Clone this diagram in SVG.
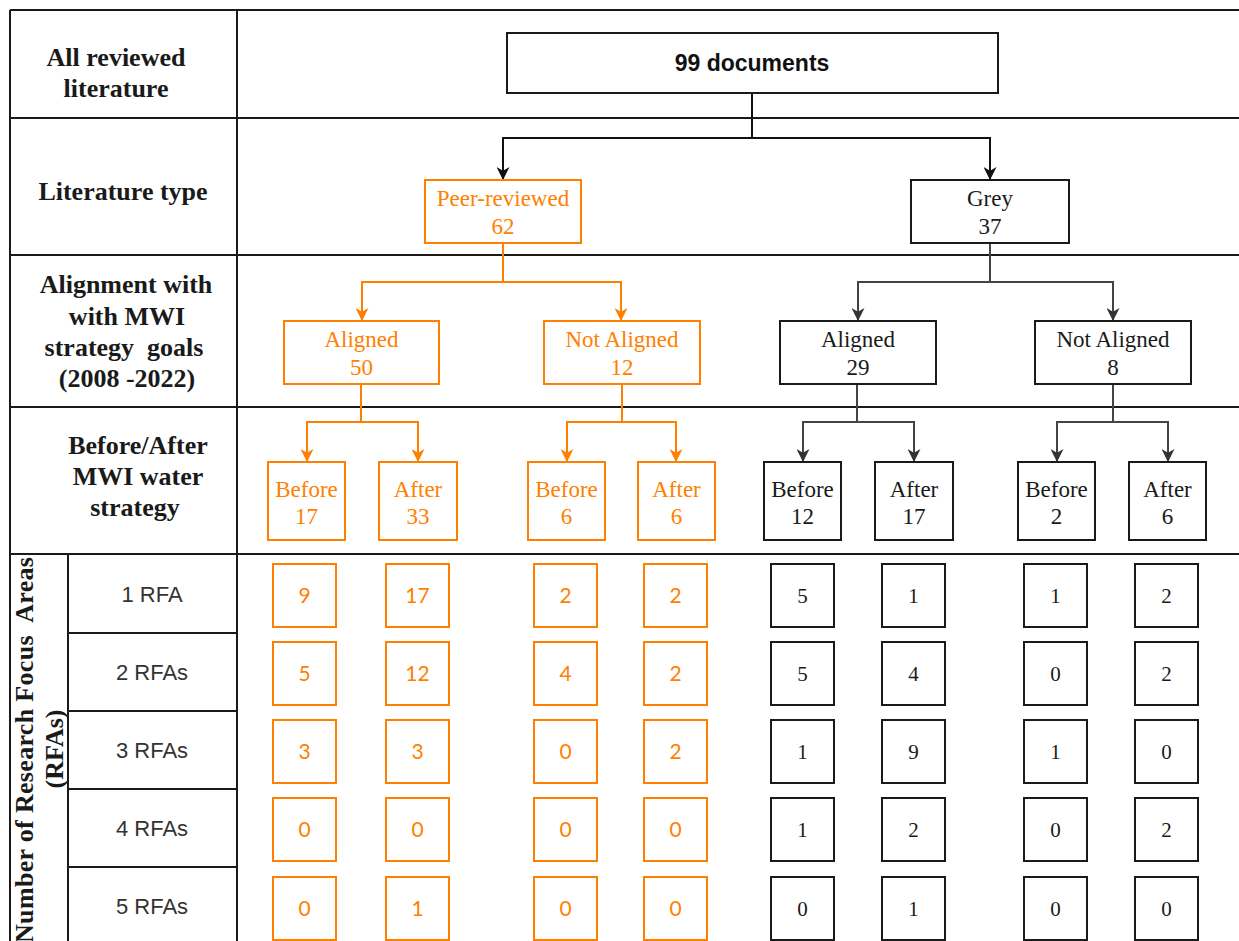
<svg xmlns="http://www.w3.org/2000/svg" width="1239" height="941" viewBox="0 0 1239 941">
  <style>
    .grid { stroke: #1a1a1a; stroke-width: 2; fill: none; }
    .hdr { font-family: "Liberation Serif", "Times New Roman", serif; font-weight: bold; font-size: 26px; fill: #1a1a1a; text-anchor: middle; }
    .rfa { font-family: "Liberation Sans", Arial, sans-serif; font-size: 22px; fill: #333333; text-anchor: middle; }
    .box-o { fill: #ffffff; stroke: #ff8000; stroke-width: 2; }
    .box-k { fill: #ffffff; stroke: #1a1a1a; stroke-width: 2; }
    .t-o { font-family: "Liberation Serif", "Times New Roman", serif; font-size: 23px; fill: #ff8000; text-anchor: middle; }
    .t-k { font-family: "Liberation Serif", "Times New Roman", serif; font-size: 23px; fill: #1a1a1a; text-anchor: middle; }
    .n-o { font-family: Lato, "Open Sans", sans-serif; font-size: 21px; fill: #ff8000; text-anchor: middle; }
    .n-k { font-family: "Liberation Serif", "Times New Roman", serif; font-size: 21px; fill: #1a1a1a; text-anchor: middle; }
    .top { font-family: "Liberation Sans", Arial, sans-serif; font-weight: bold; font-size: 23px; fill: #111111; text-anchor: middle; }
    .c-k { fill: none; stroke: #111111; stroke-width: 2; }
    .c-g { fill: none; stroke: #444444; stroke-width: 2; }
    .c-o { fill: none; stroke: #ff8000; stroke-width: 2; }
  </style>
  <defs>
    <marker id="ah-k" viewBox="0 0 12 12" refX="12" refY="6" markerWidth="13" markerHeight="13" markerUnits="userSpaceOnUse" orient="auto">
      <path d="M0,0 L12,6 L0,12 L3.5,6 z" fill="#111111"/>
    </marker>
    <marker id="ah-g" viewBox="0 0 12 12" refX="12" refY="6" markerWidth="13" markerHeight="13" markerUnits="userSpaceOnUse" orient="auto">
      <path d="M0,0 L12,6 L0,12 L3.5,6 z" fill="#333333"/>
    </marker>
    <marker id="ah-o" viewBox="0 0 12 12" refX="12" refY="6" markerWidth="13" markerHeight="13" markerUnits="userSpaceOnUse" orient="auto">
      <path d="M0,0 L12,6 L0,12 L3.5,6 z" fill="#ff8000"/>
    </marker>
  </defs>

  <rect width="1239" height="941" fill="#ffffff"/>

  <!-- table grid -->
  <g id="table">
    <path class="grid" d="M10,10 H1239 M10,118 H1239 M10,255 H1239 M10,407 H1239 M10,554 H1239"/>
    <path class="grid" d="M10,10 V941 M237,10 V941 M68,554 V941"/>
    <path class="grid" d="M68,633 H237 M68,711 H237 M68,789 H237 M68,867 H237"/>
  </g>

  <!-- row headers -->
  <g id="row-headers">
    <text class="hdr" x="116" y="66">All reviewed</text>
    <text class="hdr" x="116" y="97">literature</text>
    <text class="hdr" x="123" y="200">Literature type</text>
    <text class="hdr" x="126" y="293">Alignment with</text>
    <text class="hdr" x="127" y="325">with MWI</text>
    <text class="hdr" x="124" y="356" xml:space="preserve">strategy  goals</text>
    <text class="hdr" x="127" y="387">(2008 -2022)</text>
    <text class="hdr" x="138" y="454">Before/After</text>
    <text class="hdr" x="138" y="485">MWI water</text>
    <text class="hdr" x="135" y="516">strategy</text>
    <text class="hdr" transform="translate(33,750) rotate(-90)" x="0" y="0" textLength="386" lengthAdjust="spacing" xml:space="preserve">Number of Research Focus  Areas</text>
    <text class="hdr" transform="translate(63,749) rotate(-90)" x="0" y="0">(RFAs)</text>
    <text class="rfa" x="152" y="602">1 RFA</text>
    <text class="rfa" x="152" y="680">2 RFAs</text>
    <text class="rfa" x="152" y="758">3 RFAs</text>
    <text class="rfa" x="152" y="836">4 RFAs</text>
    <text class="rfa" x="152" y="914">5 RFAs</text>
  </g>

  <!-- connectors -->
  <g id="connectors">
    <path class="c-k" d="M752,93 V138 H503 V180" marker-end="url(#ah-k)"/>
    <path class="c-k" d="M752,138 H990 V180" marker-end="url(#ah-k)"/>
    <path class="c-o" d="M503,243 V282 H362 V321" marker-end="url(#ah-o)"/>
    <path class="c-o" d="M503,282 H621 V321" marker-end="url(#ah-o)"/>
    <path class="c-g" d="M990,243 V282 H858 V321" marker-end="url(#ah-g)"/>
    <path class="c-g" d="M990,282 H1113 V321" marker-end="url(#ah-g)"/>
    <path class="c-o" d="M361,384 V422 H307 V462" marker-end="url(#ah-o)"/>
    <path class="c-o" d="M361,422 H418 V462" marker-end="url(#ah-o)"/>
    <path class="c-o" d="M622,384 V422 H567 V462" marker-end="url(#ah-o)"/>
    <path class="c-o" d="M622,422 H676 V462" marker-end="url(#ah-o)"/>
    <path class="c-g" d="M857,384 V422 H803 V462" marker-end="url(#ah-g)"/>
    <path class="c-g" d="M857,422 H914 V462" marker-end="url(#ah-g)"/>
    <path class="c-g" d="M1113,384 V422 H1057 V462" marker-end="url(#ah-g)"/>
    <path class="c-g" d="M1113,422 H1168 V462" marker-end="url(#ah-g)"/>
  </g>

  <!-- tree nodes -->
  <g id="all-docs">
    <rect class="box-k" x="507" y="33" width="491" height="60"/>
    <text class="top" x="752" y="71">99 documents</text>
  </g>
  <g id="peer-reviewed">
    <rect class="box-o" x="425" y="180" width="156" height="63"/>
    <text class="t-o" x="503" y="206">Peer-reviewed</text>
    <text class="t-o" x="503" y="234">62</text>
  </g>
  <g id="grey">
    <rect class="box-k" x="911" y="180" width="158" height="63"/>
    <text class="t-k" x="990" y="206">Grey</text>
    <text class="t-k" x="990" y="234">37</text>
  </g>
  <g id="peer-aligned">
    <rect class="box-o" x="284" y="321" width="155" height="63"/>
    <text class="t-o" x="361.5" y="347">Aligned</text>
    <text class="t-o" x="361.5" y="375">50</text>
  </g>
  <g id="peer-not-aligned">
    <rect class="box-o" x="544" y="321" width="156" height="63"/>
    <text class="t-o" x="622" y="347">Not Aligned</text>
    <text class="t-o" x="622" y="375">12</text>
  </g>
  <g id="grey-aligned">
    <rect class="box-k" x="780" y="321" width="156" height="63"/>
    <text class="t-k" x="858" y="347">Aligned</text>
    <text class="t-k" x="858" y="375">29</text>
  </g>
  <g id="grey-not-aligned">
    <rect class="box-k" x="1035" y="321" width="156" height="63"/>
    <text class="t-k" x="1113" y="347">Not Aligned</text>
    <text class="t-k" x="1113" y="375">8</text>
  </g>

  <g id="pa-before">
    <rect class="box-o" x="268" y="462" width="77" height="78"/>
    <text class="t-o" x="306.5" y="497">Before</text>
    <text class="t-o" x="306.5" y="524">17</text>
  </g>
  <g id="pa-after">
    <rect class="box-o" x="379" y="462" width="78" height="78"/>
    <text class="t-o" x="418" y="497">After</text>
    <text class="t-o" x="418" y="524">33</text>
  </g>
  <g id="pn-before">
    <rect class="box-o" x="528" y="462" width="77" height="78"/>
    <text class="t-o" x="566.5" y="497">Before</text>
    <text class="t-o" x="566.5" y="524">6</text>
  </g>
  <g id="pn-after">
    <rect class="box-o" x="638" y="462" width="77" height="78"/>
    <text class="t-o" x="676.5" y="497">After</text>
    <text class="t-o" x="676.5" y="524">6</text>
  </g>
  <g id="ga-before">
    <rect class="box-k" x="764" y="462" width="77" height="78"/>
    <text class="t-k" x="802.5" y="497">Before</text>
    <text class="t-k" x="802.5" y="524">12</text>
  </g>
  <g id="ga-after">
    <rect class="box-k" x="875" y="462" width="78" height="78"/>
    <text class="t-k" x="914" y="497">After</text>
    <text class="t-k" x="914" y="524">17</text>
  </g>
  <g id="gn-before">
    <rect class="box-k" x="1018" y="462" width="77" height="78"/>
    <text class="t-k" x="1056.5" y="497">Before</text>
    <text class="t-k" x="1056.5" y="524">2</text>
  </g>
  <g id="gn-after">
    <rect class="box-k" x="1129" y="462" width="77" height="78"/>
    <text class="t-k" x="1167.5" y="497">After</text>
    <text class="t-k" x="1167.5" y="524">6</text>
  </g>

  <!-- RFA count cells: peer-reviewed columns (orange) -->
  <g id="pa-before-counts">
    <rect class="box-o" x="273" y="564" width="63" height="63"/><text class="n-o" x="304.5" y="603">9</text>
    <rect class="box-o" x="273" y="642" width="63" height="63"/><text class="n-o" x="304.5" y="681">5</text>
    <rect class="box-o" x="273" y="720" width="63" height="63"/><text class="n-o" x="304.5" y="759">3</text>
    <rect class="box-o" x="273" y="798" width="63" height="63"/><text class="n-o" x="304.5" y="837">0</text>
    <rect class="box-o" x="273" y="877" width="63" height="63"/><text class="n-o" x="304.5" y="916">0</text>
  </g>
  <g id="pa-after-counts">
    <rect class="box-o" x="386" y="564" width="63" height="63"/><text class="n-o" x="417.5" y="603">17</text>
    <rect class="box-o" x="386" y="642" width="63" height="63"/><text class="n-o" x="417.5" y="681">12</text>
    <rect class="box-o" x="386" y="720" width="63" height="63"/><text class="n-o" x="417.5" y="759">3</text>
    <rect class="box-o" x="386" y="798" width="63" height="63"/><text class="n-o" x="417.5" y="837">0</text>
    <rect class="box-o" x="386" y="877" width="63" height="63"/><text class="n-o" x="417.5" y="916">1</text>
  </g>
  <g id="pn-before-counts">
    <rect class="box-o" x="534" y="564" width="63" height="63"/><text class="n-o" x="565.5" y="603">2</text>
    <rect class="box-o" x="534" y="642" width="63" height="63"/><text class="n-o" x="565.5" y="681">4</text>
    <rect class="box-o" x="534" y="720" width="63" height="63"/><text class="n-o" x="565.5" y="759">0</text>
    <rect class="box-o" x="534" y="798" width="63" height="63"/><text class="n-o" x="565.5" y="837">0</text>
    <rect class="box-o" x="534" y="877" width="63" height="63"/><text class="n-o" x="565.5" y="916">0</text>
  </g>
  <g id="pn-after-counts">
    <rect class="box-o" x="644" y="564" width="63" height="63"/><text class="n-o" x="675.5" y="603">2</text>
    <rect class="box-o" x="644" y="642" width="63" height="63"/><text class="n-o" x="675.5" y="681">2</text>
    <rect class="box-o" x="644" y="720" width="63" height="63"/><text class="n-o" x="675.5" y="759">2</text>
    <rect class="box-o" x="644" y="798" width="63" height="63"/><text class="n-o" x="675.5" y="837">0</text>
    <rect class="box-o" x="644" y="877" width="63" height="63"/><text class="n-o" x="675.5" y="916">0</text>
  </g>

  <!-- RFA count cells: grey literature columns -->
  <g id="ga-before-counts">
    <rect class="box-k" x="771" y="564" width="63" height="63"/><text class="n-k" x="802.5" y="603">5</text>
    <rect class="box-k" x="771" y="642" width="63" height="63"/><text class="n-k" x="802.5" y="681">5</text>
    <rect class="box-k" x="771" y="720" width="63" height="63"/><text class="n-k" x="802.5" y="759">1</text>
    <rect class="box-k" x="771" y="798" width="63" height="63"/><text class="n-k" x="802.5" y="837">1</text>
    <rect class="box-k" x="771" y="877" width="63" height="63"/><text class="n-k" x="802.5" y="916">0</text>
  </g>
  <g id="ga-after-counts">
    <rect class="box-k" x="882" y="564" width="63" height="63"/><text class="n-k" x="913.5" y="603">1</text>
    <rect class="box-k" x="882" y="642" width="63" height="63"/><text class="n-k" x="913.5" y="681">4</text>
    <rect class="box-k" x="882" y="720" width="63" height="63"/><text class="n-k" x="913.5" y="759">9</text>
    <rect class="box-k" x="882" y="798" width="63" height="63"/><text class="n-k" x="913.5" y="837">2</text>
    <rect class="box-k" x="882" y="877" width="63" height="63"/><text class="n-k" x="913.5" y="916">1</text>
  </g>
  <g id="gn-before-counts">
    <rect class="box-k" x="1024" y="564" width="63" height="63"/><text class="n-k" x="1055.5" y="603">1</text>
    <rect class="box-k" x="1024" y="642" width="63" height="63"/><text class="n-k" x="1055.5" y="681">0</text>
    <rect class="box-k" x="1024" y="720" width="63" height="63"/><text class="n-k" x="1055.5" y="759">1</text>
    <rect class="box-k" x="1024" y="798" width="63" height="63"/><text class="n-k" x="1055.5" y="837">0</text>
    <rect class="box-k" x="1024" y="877" width="63" height="63"/><text class="n-k" x="1055.5" y="916">0</text>
  </g>
  <g id="gn-after-counts">
    <rect class="box-k" x="1135" y="564" width="63" height="63"/><text class="n-k" x="1166.5" y="603">2</text>
    <rect class="box-k" x="1135" y="642" width="63" height="63"/><text class="n-k" x="1166.5" y="681">2</text>
    <rect class="box-k" x="1135" y="720" width="63" height="63"/><text class="n-k" x="1166.5" y="759">0</text>
    <rect class="box-k" x="1135" y="798" width="63" height="63"/><text class="n-k" x="1166.5" y="837">2</text>
    <rect class="box-k" x="1135" y="877" width="63" height="63"/><text class="n-k" x="1166.5" y="916">0</text>
  </g>
</svg>
